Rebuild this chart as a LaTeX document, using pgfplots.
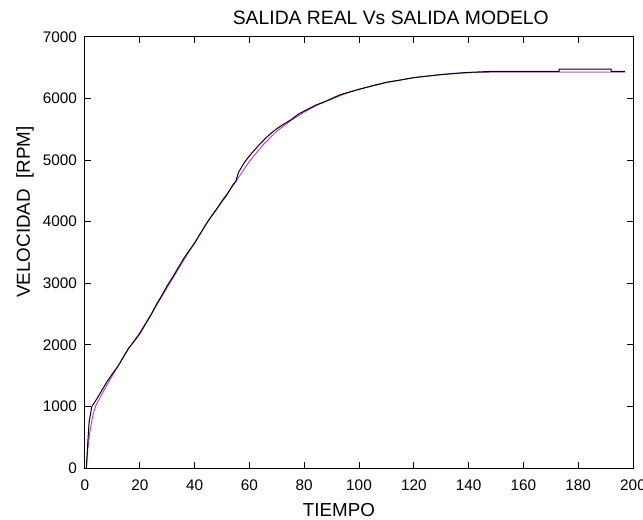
\documentclass[border=0pt]{standalone}
\usepackage{fontspec}
\setmainfont{Liberation Sans}
\usepackage{pgfplots}
\pgfplotsset{compat=1.18}
\definecolor{mag}{RGB}{185,70,215}
\begin{document}
\begin{tikzpicture}
\begin{axis}[name=ax, scale only axis, width=411bp, height=323.25bp,
  xmin=0, xmax=200, ymin=0, ymax=7000,
  xtick={0,20,...,200}, ytick={0,1000,...,7000},
  tick align=inside, major tick length=4.5bp,
  axis line style={line width=0.75bp},
  every tick/.style={black, line width=0.75bp},
  /pgf/number format/assume math mode=true,
  /pgf/number format/1000 sep={},
  scaled y ticks=false, scaled x ticks=false,
  ticklabel style={font=\fontsize{11.5bp}{13bp}\selectfont, inner sep=0pt},
  yticklabel style={xshift=-5.8bp},
  xticklabel style={anchor=base, yshift=-17bp},
  clip=false]
\addplot[mag, line width=0.75bp] coordinates {
(0.5,0) (1,300) (2,650) (3,880) (4,1020) (5,1100) (7,1270) (10,1500)
(15,1880) (20,2200) (25,2560) (30,2930) (35,3300) (40,3660) (45,4010)
(50,4340) (55,4650) (60,4980) (65,5250) (70,5470) (75,5640) (80,5780)
(85,5900) (90,5990) (95,6080) (100,6150) (110,6260) (120,6340)
(130,6390) (140,6420) (150,6430) (197,6430)};
\addplot[black, line width=0.75bp] coordinates {
(0.5,0) (1,400) (1.5,750) (2.5,1000) (4,1100) (6,1250) (8,1400) (10,1530)
(12,1650) (14,1800) (16,1950) (18,2060) (20,2180) (22,2330) (24,2480)
(26,2650) (28,2800) (30,2960) (32,3100) (34,3250) (36,3400) (38,3530)
(40,3650) (42,3800) (44,3950) (46,4080) (48,4200) (50,4330) (52,4450)
(54,4600) (55,4650) (56,4800) (58,4950) (60,5070) (62,5170) (64,5270)
(66,5360) (68,5440) (70,5510) (72,5570) (75,5650) (78,5750) (81,5820)
(84,5890) (87,5940) (90,6000) (93,6060) (96,6100) (100,6150) (105,6210)
(110,6265) (115,6300) (120,6340) (125,6365) (130,6390) (135,6410)
(140,6425) (145,6435) (149,6443) (173,6443) (173,6480) (192,6480)
(192,6443) (197,6443)};
\node[anchor=base, inner sep=0pt, font=\fontsize{14.5bp}{16bp}\selectfont]
  at (rel axis cs:0.558,1.028) {SALIDA REAL Vs SALIDA MODELO};
\node[anchor=base, inner sep=0pt, font=\fontsize{14.1bp}{16bp}\selectfont]
  at (rel axis cs:0.4635,-0.113) {TIEMPO};
\node[anchor=base, rotate=90, inner sep=0pt, font=\fontsize{14.1bp}{16bp}\selectfont]
  at (rel axis cs:-0.1004,0.594) {VELOCIDAD\ \ [RPM]};
\end{axis}
\pgfresetboundingbox
\path[use as bounding box] ([xshift=-63.75bp,yshift=-39bp]ax.south west)
  rectangle ([xshift=7.5bp,yshift=27.75bp]ax.north east);
\end{tikzpicture}
\end{document}
